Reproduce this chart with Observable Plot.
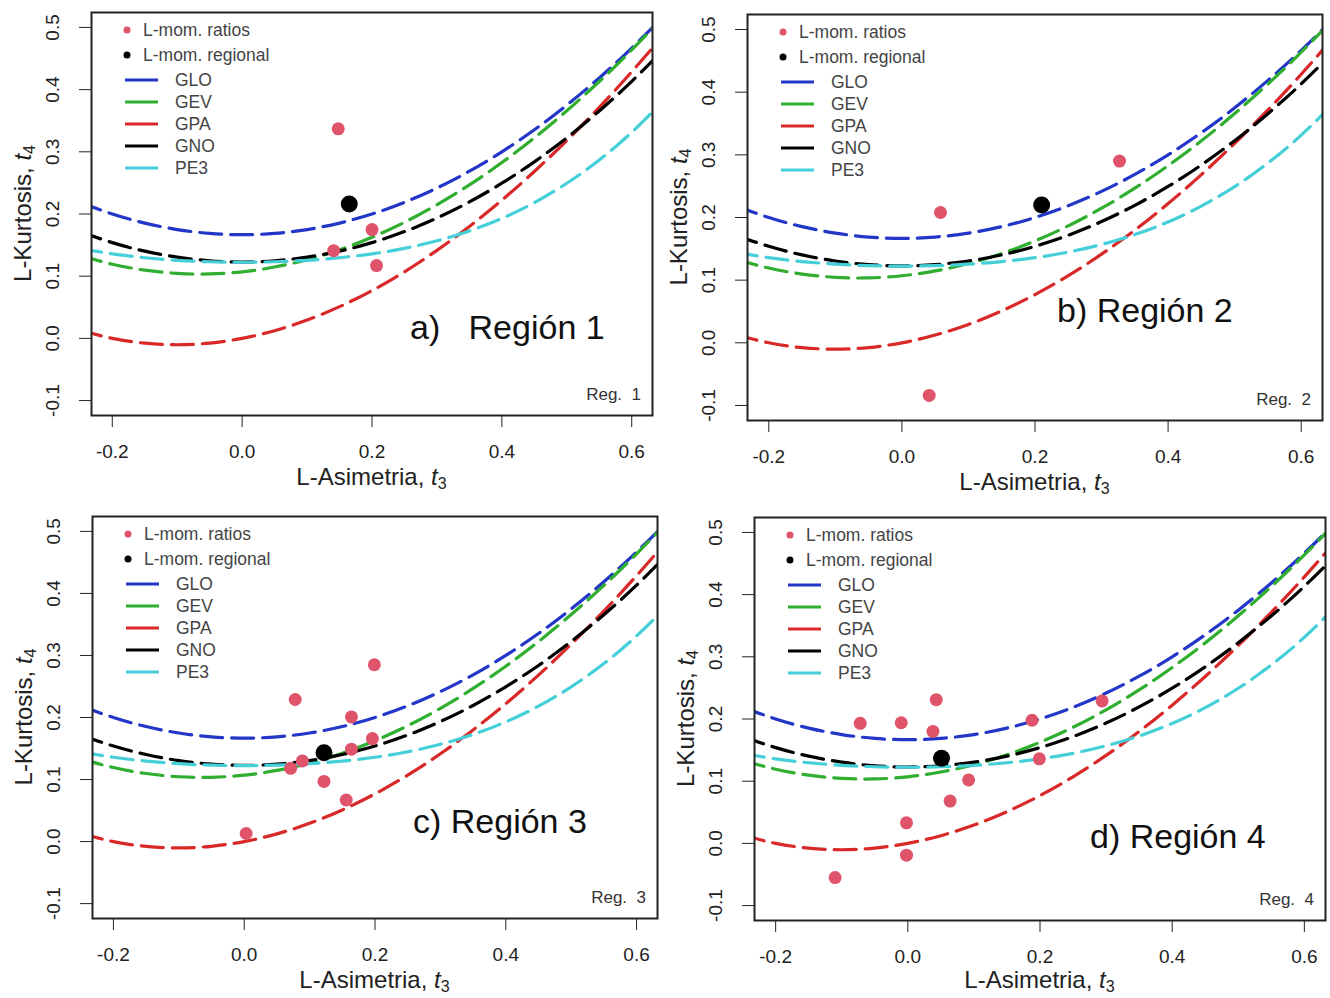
<!DOCTYPE html>
<html><head><meta charset="utf-8">
<script src="https://cdn.jsdelivr.net/npm/d3@7"></script>
<script src="https://cdn.jsdelivr.net/npm/@observablehq/plot@0.6"></script>
<style>
body{margin:0;background:#fff;}
#wrap{position:relative;width:1330px;height:998px;overflow:hidden;background:#fff;}
</style></head><body><div id="wrap"></div>
<script>
// ---- data ----
const t3Grid = [-0.25,-0.2,-0.15,-0.1,-0.05,0,0.05,0.1,0.15,0.2,0.25,0.3,0.35,0.4,0.45,0.5,0.55,0.6,0.65];
const gloT4 = [0.2188,0.2000,0.1854,0.1750,0.1688,0.1667,0.1688,0.1750,0.1854,0.2000,0.2188,0.2417,0.2688,0.3000,0.3354,0.3750,0.4188,0.4667,0.5188];
const gevT4 = [0.1334,0.1193,0.1097,0.1045,0.1036,0.1070,0.1147,0.1265,0.1425,0.1626,0.1867,0.2148,0.2468,0.2827,0.3224,0.3659,0.4130,0.4638,0.5182];
const gpaT4 = [0.0132,0.0000,-0.0077,-0.0102,-0.0076,0.0000,0.0124,0.0294,0.0510,0.0769,0.1071,0.1415,0.1799,0.2222,0.2684,0.3182,0.3716,0.4286,0.4889];
const gnoT4 = [0.1717,0.1540,0.1403,0.1306,0.1248,0.1228,0.1248,0.1306,0.1403,0.1540,0.1717,0.1935,0.2194,0.2495,0.2839,0.3226,0.3657,0.4133,0.4656];
const pe3T4 = [0.1448,0.1359,0.1297,0.1255,0.1232,0.1224,0.1232,0.1255,0.1297,0.1359,0.1448,0.1569,0.1727,0.1929,0.2182,0.2494,0.2869,0.3314,0.3835];
const curveNames = ["GLO","GEV","GPA","GNO","PE3"];

const region1T3 = [0.148, 0.200, 0.141, 0.207];
const region1T4 = [0.337, 0.175, 0.141, 0.117];
const region2T3 = [0.058, 0.327, 0.041];
const region2T4 = [0.208, 0.290, -0.084];
const region3T3 = [0.078, 0.199, 0.164, 0.196, 0.164, 0.089, 0.071, 0.122, 0.156, 0.003];
const region3T4 = [0.229, 0.285, 0.201, 0.166, 0.149, 0.130, 0.118, 0.097, 0.067, 0.013];
const region4T3 = [-0.072, -0.010, 0.043, 0.038, 0.188, 0.294, 0.199, 0.092, 0.064, -0.002, -0.002, -0.110];
const region4T4 = [0.193, 0.194, 0.231, 0.180, 0.198, 0.229, 0.136, 0.102, 0.068, 0.033, -0.019, -0.055];
const regionalT3 = [0.165, 0.210, 0.122, 0.051];
const regionalT4 = [0.216, 0.220, 0.143, 0.137];

const xTicks = [-0.2, 0.0, 0.2, 0.4, 0.6];
const yTicks = [-0.1, 0.0, 0.1, 0.2, 0.3, 0.4, 0.5];
const regionLabels = ["a)   Región 1", "b) Región 2", "c) Región 3", "d) Región 4"];
const regTags = ["Reg.  1", "Reg.  2", "Reg.  3", "Reg.  4"];
const legendPointLabels = ["L-mom. ratios", "L-mom. regional"];
const xTitle = ["L-Asimetria, ", "t", "3"];
const yTitle = ["L-Kurtosis, ", "t", "4"];

// ---- styles / layout ----
const FONT = '"Liberation Sans", Arial, Helvetica, sans-serif';
const curveColors = ["#2236c8", "#2fae2f", "#d92828", "#000000", "#45cfd8"];
const ratioColor = "#DF536B";
const layout = [
  {l:91,  t:12,  r:652,  b:415, lab:{x:410,  y:327}, tt:62},
  {l:747, t:14,  r:1322, b:420, lab:{x:1057, y:310}, tt:62},
  {l:92,  t:516, r:657,  b:918, lab:{x:413,  y:821}, tt:62},
  {l:754, t:517, r:1325, b:920, lab:{x:1090, y:836}, tt:60}
];

const curveT4 = [gloT4, gevT4, gpaT4, gnoT4, pe3T4];
const curveRows = curveNames.flatMap((n, i) => t3Grid.map((t, j) => ({name: n, t3: t, t4: curveT4[i][j]})));
const ratioSets = [[region1T3, region1T4], [region2T3, region2T4], [region3T3, region3T4], [region4T3, region4T4]];

const wrap = document.getElementById("wrap");
const fmt = d => d.toFixed(1);

ratioSets.forEach(([xs, ys], k) => {
  const L = layout[k];
  const mL = 90, mT = 12, mR = 8, mB = 80;
  const fw = L.r - L.l, fh = L.b - L.t;
  const W = fw + mL + mR, H = fh + mT + mB;
  const ratios = xs.map((t, i) => ({t3: t, t4: ys[i]}));
  const chart = Plot.plot({
    width: W, height: H,
    marginLeft: mL, marginTop: mT, marginRight: mR, marginBottom: mB,
    x: {domain: [-0.232, 0.632]},
    y: {domain: [-0.124, 0.524]},
    color: {domain: curveNames, range: curveColors},
    style: {fontFamily: FONT, color: "#222", background: "transparent", overflow: "visible"},
    marks: [
      Plot.line(curveRows, {x: "t3", y: "t4", z: "name", stroke: "name", strokeWidth: 3.2,
        strokeDasharray: "22,9", curve: "natural", clip: true}),
      Plot.dot(ratios, {x: "t3", y: "t4", r: 6.5, fill: ratioColor}),
      Plot.dot([{t3: regionalT3[k], t4: regionalT4[k]}], {x: "t3", y: "t4", r: 8.5, fill: "#000"}),
      Plot.frame({stroke: "#222", strokeWidth: 2}),
      Plot.axisX({ticks: xTicks, tickSize: 12, tickPadding: 17, tickFormat: fmt, fontSize: 19, label: null}),
      Plot.axisY({ticks: yTicks, tickSize: 12, tickFormat: () => "", label: null}),
      Plot.text(yTicks, {y: d => d, frameAnchor: "left", textAnchor: "middle", dx: -39, rotate: -90,
        text: fmt, fontSize: 19, fill: "#222"})
    ]
  });
  chart.style.position = "absolute";
  chart.style.left = (L.l - mL) + "px";
  chart.style.top = (L.t - mT) + "px";
  wrap.appendChild(chart);

  const svg = d3.select(chart);
  // legend
  const g = svg.append("g").attr("font-family", FONT).attr("font-size", 17.5).attr("fill", "#444")
    .attr("text-anchor", "start");
  const rows = [18, 43, 68, 90, 112, 134, 156];
  [ratioColor, "#000"].forEach((c, i) => {
    g.append("circle").attr("cx", mL + 36).attr("cy", mT + rows[i]).attr("r", 3.5).attr("fill", c);
    g.append("text").attr("x", mL + 52).attr("y", mT + rows[i]).attr("dy", "0.35em").text(legendPointLabels[i]);
  });
  curveNames.forEach((n, i) => {
    const y = mT + rows[i + 2];
    g.append("line").attr("x1", mL + 34).attr("x2", mL + 67).attr("y1", y).attr("y2", y)
      .attr("stroke", curveColors[i]).attr("stroke-width", 3);
    g.append("text").attr("x", mL + 84).attr("y", y).attr("dy", "0.35em").text(n);
  });
  // region label
  svg.append("text").attr("x", L.lab.x - (L.l - mL)).attr("y", L.lab.y - (L.t - mT)).attr("dy", "0.35em")
    .attr("text-anchor", "start")
    .attr("font-family", FONT).attr("font-size", 34).attr("fill", "#111").style("white-space", "pre")
    .text(regionLabels[k]);
  // reg tag
  svg.append("text").attr("x", mL + fw - 11).attr("y", mT + fh - 21).attr("dy", "0.35em")
    .attr("text-anchor", "end").attr("font-family", FONT).attr("font-size", 17).attr("fill", "#333")
    .style("white-space", "pre").text(regTags[k]);
  // axis titles
  const addTitle = (parts, x, y, rot) => {
    const t = svg.append("text").attr("x", x).attr("y", y).attr("dy", "0.35em")
      .attr("text-anchor", "middle").attr("font-family", FONT).attr("font-size", 24).attr("fill", "#222");
    if (rot) t.attr("transform", `rotate(-90,${x},${y})`);
    t.append("tspan").text(parts[0]);
    t.append("tspan").attr("font-style", "italic").text(parts[1]);
    t.append("tspan").attr("font-size", 16).attr("dy", "0.25em").text(parts[2]);
  };
  addTitle(xTitle, mL + fw / 2, mT + fh + L.tt, false);
  addTitle(yTitle, mL - 68, mT + fh / 2, true);
});
</script></body></html>
